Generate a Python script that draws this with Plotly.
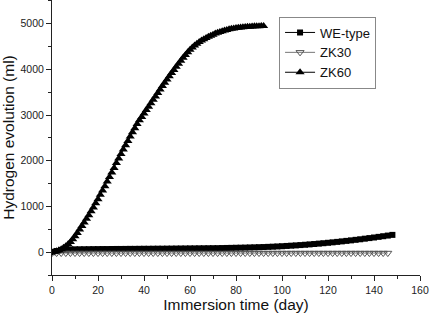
import plotly.graph_objects as go

# ---- data ----
zk60_days = list(range(0, 93))
zk60_vals = [0, 8, 20, 40, 65, 95, 130, 175, 225, 285,
             350, 420, 495, 570, 650, 730, 810, 895, 980, 1070,
             1160, 1255, 1350, 1445, 1545, 1645, 1745, 1845, 1950, 2050,
             2150, 2245, 2340, 2435, 2530, 2625, 2715, 2805, 2885, 2960,
             3035, 3110, 3185, 3260, 3335, 3410, 3485, 3560, 3635, 3710,
             3780, 3850, 3920, 3990, 4060, 4125, 4190, 4255, 4315, 4375,
             4430, 4480, 4525, 4565, 4600, 4632, 4662, 4690, 4715, 4740,
             4762, 4784, 4804, 4822, 4838, 4853, 4866, 4878, 4889, 4898,
             4906, 4913, 4919, 4924, 4929, 4933, 4937, 4940, 4943, 4945,
             4947, 4949, 4950]

we_days = list(range(0, 149, 2))
we_vals = [0, 25, 45, 55, 60, 62, 63, 64, 65, 66,
           67, 68, 68, 69, 70, 70, 71, 72, 72, 73,
           74, 74, 75, 76, 76, 77, 78, 79, 80, 81,
           82, 83, 84, 85, 86, 87, 88, 90, 92, 94,
           96, 98, 100, 103, 106, 109, 112, 116, 120, 125,
           130, 136, 142, 148, 155, 162, 170, 178, 187, 196,
           205, 215, 225, 236, 247, 258, 270, 282, 295, 308,
           321, 335, 349, 363, 378]

zk30_days = list(range(0, 148, 2))
zk30_vals = [-20] * len(zk30_days)

fig = go.Figure()
fig.add_trace(go.Scatter(
    x=we_days, y=we_vals, name="WE-type", mode="lines+markers",
    line=dict(color="black", width=1),
    marker=dict(symbol="square", size=6, color="black")))
fig.add_trace(go.Scatter(
    x=zk30_days, y=zk30_vals, name="ZK30", mode="lines+markers",
    line=dict(color="#777777", width=1),
    marker=dict(symbol="triangle-down-open", size=7, color="#555555",
                line=dict(width=1))))
fig.add_trace(go.Scatter(
    x=zk60_days, y=zk60_vals, name="ZK60", mode="lines+markers",
    line=dict(color="black", width=1),
    marker=dict(symbol="triangle-up", size=8, color="black")))

axis_common = dict(
    showline=True, linecolor="#222222", linewidth=1,
    ticks="outside", ticklen=5, tickwidth=1, tickcolor="#222222",
    showgrid=False, zeroline=False, mirror=False, automargin=False,
    tickfont=dict(family="Liberation Sans, Arial", size=10.5, color="#222222"),
)

fig.update_xaxes(range=[0, 160], tick0=0, dtick=20,
                 minor=dict(ticks="outside", ticklen=3, dtick=10, tickcolor="#222222"),
                 title=dict(text="Immersion time (day)", standoff=2,
                            font=dict(family="Liberation Sans, Arial", size=15.5, color="#111111")),
                 **axis_common)
fig.update_yaxes(range=[-500, 5520], tick0=0, dtick=1000,
                 minor=dict(ticks="outside", ticklen=3, dtick=500, tickcolor="#222222"),
                 title=dict(text="Hydrogen evolution (ml)", standoff=6,
                            font=dict(family="Liberation Sans, Arial", size=15.5, color="#111111")),
                 **axis_common)

fig.update_layout(
    width=430, height=314,
    margin=dict(l=52, r=10, t=0, b=39, autoexpand=False),
    paper_bgcolor="white", plot_bgcolor="white",
    showlegend=True,
    legend=dict(x=0.617, y=0.94, xanchor="left", yanchor="top",
                bordercolor="#888888", borderwidth=1, bgcolor="white",
                font=dict(family="Liberation Sans, Arial", size=13, color="#111111"),
                tracegroupgap=0, itemwidth=30),
)

fig.write_html("out.html", config={"displayModeBar": False},
               post_script="document.body.style.margin='0';document.body.style.overflow='hidden';")
